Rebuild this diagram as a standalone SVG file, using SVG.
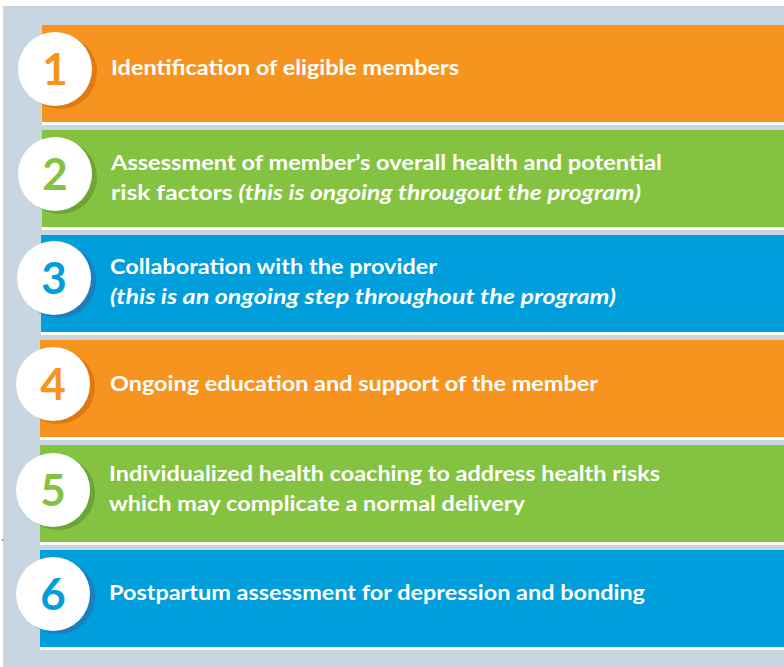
<svg xmlns="http://www.w3.org/2000/svg" width="784" height="667" viewBox="0 0 784 667">
<style>
.bg{fill:#C8D6E2}
.sep{fill:#FFFFFF}
.or{fill:#F7941F}
.gr{fill:#84C341}
.bl{fill:#009EDB}
.sh-or{fill:#DE7A12}
.sh-gr{fill:#6CA534}
.sh-bl{fill:#1B7FBE}
.disc{fill:#FFFFFF}
.num{font-family:Lato,"Open Sans",sans-serif;font-weight:bold;font-size:44px;text-anchor:middle}
.t{font-family:Lato,"Open Sans",sans-serif;font-weight:bold;font-size:21px;fill:#FFFFFF}
.i{font-style:italic}
</style>
<rect x="0" y="0" width="784" height="667" fill="#FFFFFF"/>
<rect class="bg" x="3" y="6" width="781" height="661"/>
<circle cx="2.5" cy="540" r="0.8" fill="#555555"/>
<g id="connectors"></g>
<g id="step1">
<rect class="sep" x="42" y="25" width="742" height="100"/>
<rect class="or" x="42" y="25" width="742" height="97"/>
<circle class="sh-or" cx="60" cy="72" r="37"/>
<circle class="disc" cx="55" cy="69" r="37"/>
<text class="num" x="55" y="85" fill="#F7941F">1</text>
<text class="t" x="111" y="75" textLength="348" lengthAdjust="spacingAndGlyphs">Identification of eligible members</text>
</g>
<g id="step2">
<rect class="sep" x="42" y="130" width="742" height="100"/>
<rect class="gr" x="42" y="130" width="742" height="97"/>
<circle class="sh-gr" cx="60" cy="177" r="37"/>
<circle class="disc" cx="55" cy="174" r="37"/>
<text class="num" x="55" y="190" fill="#84C341">2</text>
<text class="t" x="111" y="170" textLength="551" lengthAdjust="spacingAndGlyphs">Assessment of member’s overall health and potential</text>
<text class="t" x="111" y="200" textLength="530" lengthAdjust="spacingAndGlyphs">risk factors <tspan class="i">(this is ongoing througout the program)</tspan></text>
</g>
<g id="step3">
<rect class="sep" x="41" y="235" width="743" height="100"/>
<rect class="bl" x="41" y="235" width="743" height="97"/>
<circle class="sh-bl" cx="59" cy="281" r="37"/>
<circle class="disc" cx="54" cy="278" r="37"/>
<text class="num" x="54" y="294" fill="#009EDB">3</text>
<text class="t" x="110" y="274" textLength="327" lengthAdjust="spacingAndGlyphs">Collaboration with the provider</text>
<text class="t i" x="110" y="304" textLength="506" lengthAdjust="spacingAndGlyphs">(this is an ongoing step throughout the program)</text>
</g>
<g id="step4">
<rect class="sep" x="40" y="340" width="744" height="100"/>
<rect class="or" x="40" y="340" width="744" height="97"/>
<circle class="sh-or" cx="58" cy="387" r="37"/>
<circle class="disc" cx="53" cy="384" r="37"/>
<text class="num" x="53" y="400" fill="#F7941F">4</text>
<text class="t" x="110" y="391" textLength="488" lengthAdjust="spacingAndGlyphs">Ongoing education and support of the member</text>
</g>
<g id="step5">
<rect class="sep" x="40" y="445" width="744" height="100"/>
<rect class="gr" x="40" y="445" width="744" height="97"/>
<circle class="sh-gr" cx="58" cy="493" r="37"/>
<circle class="disc" cx="53" cy="490" r="37"/>
<text class="num" x="53" y="506" fill="#84C341">5</text>
<text class="t" x="109" y="481" textLength="551" lengthAdjust="spacingAndGlyphs">Individualized health coaching to address health risks</text>
<text class="t" x="109" y="511" textLength="416" lengthAdjust="spacingAndGlyphs">which may complicate a normal delivery</text>
</g>
<g id="step6">
<rect class="sep" x="40" y="550" width="744" height="100"/>
<rect class="bl" x="40" y="550" width="744" height="97"/>
<circle class="sh-bl" cx="58" cy="597" r="37"/>
<circle class="disc" cx="53" cy="594" r="37"/>
<text class="num" x="53" y="610" fill="#009EDB">6</text>
<text class="t" x="109" y="600" textLength="536" lengthAdjust="spacingAndGlyphs">Postpartum assessment for depression and bonding</text>
</g>
</svg>
